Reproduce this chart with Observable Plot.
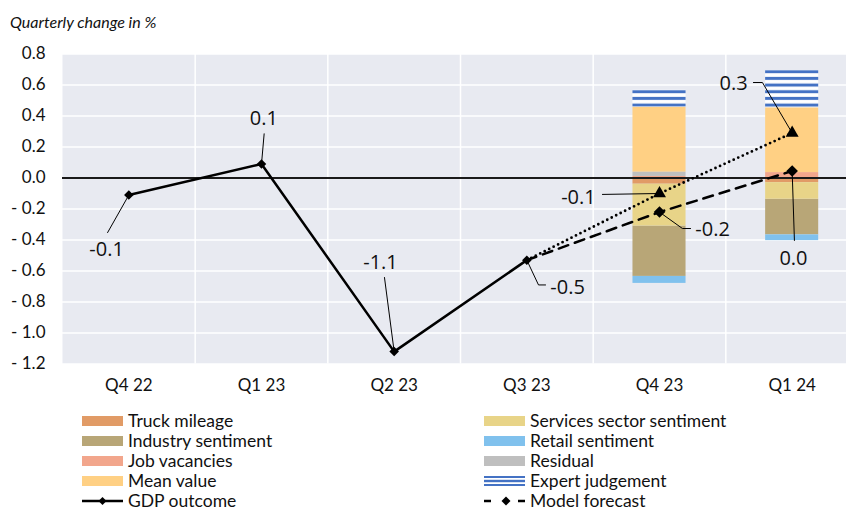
<!DOCTYPE html>
<html><head><meta charset="utf-8">
<script src="https://cdn.jsdelivr.net/npm/d3@7"></script>
<script src="https://cdn.jsdelivr.net/npm/@observablehq/plot@0.6"></script>
<style>
html,body{margin:0;padding:0;background:#fff;overflow:hidden;width:846px;height:512px;}
#sub{position:relative;height:36px;}
#sub span{position:absolute;left:10px;top:14px;font-family:Lato;font-style:italic;font-size:16px;line-height:1;color:#111;white-space:nowrap;}
#chart svg{display:block;overflow:hidden;}
#legend{position:relative;height:100px;margin-top:11px;font-family:Lato;font-size:17.5px;color:#111;}
.item{position:absolute;height:20px;display:flex;align-items:center;white-space:nowrap;line-height:1;}
.item .sw{width:41px;height:12px;margin-right:5px;display:flex;align-items:center;}
</style></head><body>
<div id="sub"><span>Quarterly change in %</span></div>
<div id="chart"></div>
<div id="legend"></div>
<script>
// ---- data ----
const quarters = ["Q4 22", "Q1 23", "Q2 23", "Q3 23", "Q4 23", "Q1 24"];
const gdpOutcome     = [-0.11, 0.09, -1.12, -0.53, null, null];
const modelForecast  = [null, null, null, -0.53, -0.22, 0.045];
const expertForecast = [null, null, null, -0.53, -0.10, 0.29];

const components = ["Truck mileage", "Industry sentiment", "Job vacancies", "Mean value",
  "Services sector sentiment", "Retail sentiment", "Residual", "Expert judgement"];
const componentColors = ["#E19B66", "#B8A677", "#F2A68C", "#FFD084",
  "#E8D488", "#80C1ED", "#BFBFBF", "url(#expertStripes)"];
const barQuarters = ["Q4 23", "Q1 24"];
const truckMileage      = [-0.04, -0.03];
const industrySentiment = [-0.325, -0.23];
const jobVacancies      = [0.01, 0.035];
const meanValue         = [0.42, 0.418];
const servicesSentiment = [-0.27, -0.107];
const retailSentiment   = [-0.045, -0.037];
const residual          = [0.027, 0];
const expertJudgement   = [0.11, 0.24];
const stackOrder = ["Job vacancies", "Truck mileage", "Residual", "Services sector sentiment",
  "Mean value", "Industry sentiment", "Retail sentiment", "Expert judgement"];
const yTicks = [-1.2, -1.0, -0.8, -0.6, -0.4, -0.2, 0, 0.2, 0.4, 0.6, 0.8];

const legendLeft  = ["Truck mileage", "Industry sentiment", "Job vacancies", "Mean value", "GDP outcome"];
const legendRight = ["Services sector sentiment", "Retail sentiment", "Residual", "Expert judgement", "Model forecast"];

// ---- derived tables ----
const componentValues = [truckMileage, industrySentiment, jobVacancies, meanValue,
  servicesSentiment, retailSentiment, residual, expertJudgement];
const barHalf = 0.2;
const bars = [];
barQuarters.forEach((q, j) => {
  const i = quarters.indexOf(q);
  components.forEach((c, k) => bars.push({x1: i - barHalf, x2: i + barHalf, component: c, value: componentValues[k][j]}));
});
const series = (vals) => vals.map((v, i) => ({i, v})).filter(d => d.v != null);
const gdpPts = series(gdpOutcome);
const modelPts = series(modelForecast);
const expertPts = series(expertForecast);

// annotation leader lines & labels (data-space placements)
const annotations = [
  {src: gdpOutcome, q: 0, via: [[-0.16, -0.352]], at: [-0.168, -0.461]},
  {src: gdpOutcome, q: 1, via: [[1.02, 0.285]], at: [1.017, 0.382]},
  {src: gdpOutcome, q: 2, via: [[1.927, -0.642]], at: [1.897, -0.545]},
  {src: gdpOutcome, q: 3, via: [[3.088, -0.69], [3.141, -0.69]], at: [3.307, -0.706]},
  {src: expertForecast, q: 4, via: [[3.57, -0.106]], at: [3.389, -0.124]},
  {src: modelForecast, q: 4, via: [[4.173, -0.326], [4.234, -0.326]], at: [4.40, -0.332]},
  {src: expertForecast, q: 5, via: [[4.776, 0.616], [4.708, 0.616]], at: [4.558, 0.61]},
  {src: modelForecast, q: 5, via: [[5.017, -0.403]], at: [5.01, -0.519]}
];
const fmt1 = v => d3.format(".1f")(v).replace("\u2212", "-");
const leaderPts = [];
const labelRows = [];
annotations.forEach((a, n) => {
  const v = a.src[a.q];
  leaderPts.push({id: n, x: a.q, y: v});
  a.via.forEach(([x, y]) => leaderPts.push({id: n, x, y}));
  labelRows.push({x: a.at[0], y: a.at[1], text: fmt1(v)});
});

const grid = yTicks.filter(t => t !== 0);
const vgrid = d3.range(0.5, quarters.length - 1, 1);

const plot = Plot.plot({
  width: 846,
  height: 364,
  marginTop: 17.5,
  marginBottom: 36.5,
  marginLeft: 62,
  marginRight: 0,
  style: {fontFamily: "Lato", fontSize: "17px", color: "#111", background: "transparent", overflow: "hidden"},
  x: {domain: [-0.5, quarters.length - 0.5], range: [62, 858], ticks: quarters.length,
      tickFormat: i => quarters[i] ?? "", tickSize: 0, tickPadding: 15, label: null},
  y: {domain: [-1.2, 0.8], ticks: yTicks.length, tickSize: 0, tickPadding: 17, label: null,
      tickFormat: v => v < -1e-9 ? "- " + Math.abs(v).toFixed(1) : Math.abs(v).toFixed(1)},
  color: {domain: components, range: componentColors},
  marks: [
    Plot.frame({fill: "#E8EAF1", stroke: null}),
    Plot.ruleY(grid, {stroke: "white", strokeWidth: 1.5}),
    Plot.ruleX(vgrid, {stroke: "white", strokeWidth: 1.5}),
    Plot.rect(bars, Plot.stackY({x1: "x1", x2: "x2", y: "value", z: "component", fill: "component", order: stackOrder})),
    Plot.ruleY([0], {stroke: "#1a1a1a", strokeWidth: 2}),
    Plot.line(leaderPts, {x: "x", y: "y", z: "id", stroke: "black", strokeWidth: 1}),
    Plot.line(gdpPts, {x: "i", y: "v", stroke: "black", strokeWidth: 2.5}),
    Plot.line(expertPts, {x: "i", y: "v", stroke: "black", strokeWidth: 2.8, strokeDasharray: "0,5", strokeLinecap: "round"}),
    Plot.line(modelPts, {x: "i", y: "v", stroke: "black", strokeWidth: 2.5, strokeDasharray: "10,7"}),
    Plot.dot(gdpPts, {x: "i", y: "v", symbol: "diamond2", r: 4.3, fill: "black", stroke: null}),
    Plot.dot(expertPts.slice(1), {x: "i", y: "v", symbol: "triangle", r: 4.8, fill: "black", stroke: null}),
    Plot.dot(modelPts.slice(1), {x: "i", y: "v", symbol: "diamond2", r: 5.2, fill: "black", stroke: null}),
    Plot.text(labelRows, {x: "x", y: "y", text: "text", fontFamily: "Open Sans", fontSize: 20, fill: "#111"})
  ]
});

// stripe pattern for expert judgement
const NS = "http://www.w3.org/2000/svg";
function makePattern(svg, id) {
  const defs = document.createElementNS(NS, "defs");
  const pat = document.createElementNS(NS, "pattern");
  pat.setAttribute("id", id);
  pat.setAttribute("patternUnits", "userSpaceOnUse");
  pat.setAttribute("width", "10");
  pat.setAttribute("height", "6.67");
  const bg = document.createElementNS(NS, "rect");
  bg.setAttribute("width", "10"); bg.setAttribute("height", "6.67"); bg.setAttribute("fill", "white");
  const st = document.createElementNS(NS, "rect");
  st.setAttribute("y", "0.85"); st.setAttribute("width", "10"); st.setAttribute("height", "3"); st.setAttribute("fill", "#4472C4");
  pat.appendChild(bg); pat.appendChild(st); defs.appendChild(pat);
  svg.insertBefore(defs, svg.firstChild);
}
makePattern(plot, "expertStripes");
document.getElementById("chart").appendChild(plot);

// ---- legend ----
const legend = document.getElementById("legend");
function swatch(name) {
  const k = components.indexOf(name);
  if (name === "GDP outcome") {
    return '<svg width="41" height="12"><line x1="0" y1="6" x2="41" y2="6" stroke="black" stroke-width="2.5"/><path d="M20.5,2 L24.5,6 L20.5,10 L16.5,6Z" fill="black"/></svg>';
  }
  if (name === "Model forecast") {
    return '<svg width="41" height="12"><line x1="0" y1="6" x2="7" y2="6" stroke="black" stroke-width="2.5"/><path d="M22,1.5 L26.5,6 L22,10.5 L17.5,6Z" fill="black"/><line x1="34" y1="6" x2="41" y2="6" stroke="black" stroke-width="2.5"/></svg>';
  }
  if (name === "Expert judgement") {
    return '<svg width="41" height="12"><rect x="0" y="1" width="41" height="10" fill="white"/><rect x="0" y="1" width="41" height="2" fill="#4472C4"/><rect x="0" y="4.8" width="41" height="2.4" fill="#4472C4"/><rect x="0" y="9" width="41" height="2" fill="#4472C4"/></svg>';
  }
  return '<div style="width:41px;height:10px;background:' + componentColors[k] + '"></div>';
}
[[legendLeft, 82], [legendRight, 484]].forEach(([col, left]) => {
  col.forEach((name, r) => {
    const el = document.createElement("div");
    el.className = "item";
    el.style.left = left + "px";
    el.style.top = (r * 20) + "px";
    el.innerHTML = '<div class="sw">' + swatch(name) + '</div><span>' + name + '</span>';
    legend.appendChild(el);
  });
});
</script></body></html>
